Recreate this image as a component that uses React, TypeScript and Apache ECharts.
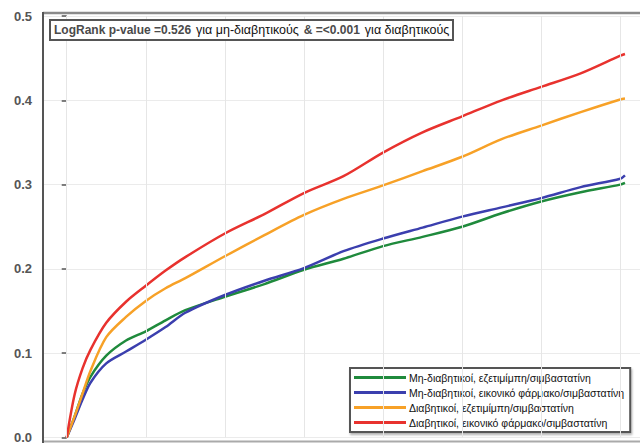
import React, { useEffect, useRef } from "react";
import * as echarts from "echarts";

// time in years (x axis has no visible labels); vertical grid each year
const years = [0, 0.1, 0.2, 0.3, 0.5, 0.75, 1, 1.25, 1.5, 2, 2.5, 3, 3.5, 4, 4.5, 5, 5.5, 6, 6.5, 7, 7.06];
const xGridYears = [0, 1, 2, 3, 4, 5, 6, 7];

const seriesNames = [
  "Μη-διαβητικοί, εζετιμίμπη/σιμβαστατίνη",
  "Μη-διαβητικοί, εικονικό φάρμακο/σιμβαστατίνη",
  "Διαβητικοί, εζετιμίμπη/σιμβαστατίνη",
  "Διαβητικοί, εικονικό φάρμακο/σιμβαστατίνη",
];

const nonDiabEzetimibe = [0, 0.025, 0.052, 0.072, 0.097, 0.115, 0.126, 0.139, 0.151, 0.167, 0.182, 0.199, 0.212, 0.227, 0.238, 0.25, 0.266, 0.28, 0.291, 0.3, 0.302];
const nonDiabPlacebo = [0, 0.022, 0.045, 0.065, 0.088, 0.102, 0.116, 0.131, 0.148, 0.169, 0.186, 0.201, 0.221, 0.236, 0.249, 0.262, 0.273, 0.284, 0.297, 0.307, 0.311];
const diabEzetimibe = [0, 0.025, 0.052, 0.079, 0.119, 0.143, 0.162, 0.177, 0.189, 0.215, 0.24, 0.264, 0.283, 0.299, 0.316, 0.333, 0.354, 0.37, 0.386, 0.401, 0.402];
const diabPlacebo = [0, 0.051, 0.082, 0.104, 0.136, 0.161, 0.18, 0.198, 0.214, 0.242, 0.265, 0.29, 0.31, 0.338, 0.362, 0.381, 0.4, 0.416, 0.432, 0.453, 0.455];

const seriesValues = [nonDiabEzetimibe, nonDiabPlacebo, diabEzetimibe, diabPlacebo];
const seriesColors = ["#1f8a3c", "#3b3fae", "#f7a127", "#e8322e"];

const yTicks = [0, 0.1, 0.2, 0.3, 0.4, 0.5];

const FONT = "'Liberation Sans', Arial, sans-serif";

export default function App() {
  const ref = useRef<HTMLDivElement>(null);
  useEffect(() => {
    if (!ref.current) return;
    const chart = echarts.init(ref.current, null, { renderer: "svg" });
    const lines = seriesValues.map((vals, i) => ({
      name: seriesNames[i],
      type: "line",
      data: vals.map((v, j) => [years[j], v]),
      showSymbol: false,
      symbol: "none",
      smooth: 0.3,
      lineStyle: { color: seriesColors[i], width: 2.5 },
      itemStyle: { color: seriesColors[i] },
      z: 3,
    }));
    chart.setOption({
      animation: false,
      backgroundColor: "#ffffff",
      grid: { left: 43, right: 0, top: 16, bottom: 5 },
      title: {
        left: 50,
        top: 20,
        padding: [1, 4, 1, 4],
        borderColor: "#555",
        borderWidth: 2,
        backgroundColor: "#fff",
        text: "{b|LogRank p-value =0.526} {n|για μη-διαβητικούς} {b|& =<0.001} {n|για διαβητικούς}",
        textStyle: {
          rich: {
            b: { fontFamily: FONT, fontSize: 12, fontWeight: "bold", color: "#4a4a4a", lineHeight: 14 },
            n: { fontFamily: FONT, fontSize: 12.5, fontWeight: "normal", color: "#111", lineHeight: 14 },
          },
        },
      },
      legend: {
        data: seriesNames,
        orient: "vertical",
        left: 350,
        top: 368,
        itemWidth: 52,
        itemHeight: 3,
        itemGap: 4,
        icon: "rect",
        padding: [4, 6, 4, 4],
        borderColor: "#555",
        borderWidth: 2,
        backgroundColor: "#fff",
        shadowColor: "rgba(0,0,0,0.3)",
        shadowBlur: 2,
        shadowOffsetX: 1,
        shadowOffsetY: 2,
        textStyle: {
          fontFamily: FONT,
          fontSize: 10.5,
          color: "#111",
          padding: [0, 0, 0, -2],
        },
      },
      xAxis: {
        type: "value",
        min: -0.3,
        max: 7.25,
        axisLine: { show: false },
        axisTick: { show: false },
        axisLabel: { show: false },
        splitLine: { show: false },
      },
      yAxis: {
        type: "value",
        min: 0,
        max: 0.5,
        interval: 0.1,
        axisLine: { show: false },
        axisTick: { show: true, length: 5, lineStyle: { color: "#555", width: 1.5 } },
        axisLabel: {
          fontFamily: FONT,
          fontSize: 13,
          fontWeight: "bold",
          color: "#555",
          margin: 11,
          formatter: (v: number) => v.toFixed(1),
          customValues: yTicks,
        },
        splitLine: { show: true, lineStyle: { color: "#ebebeb", width: 1 } },
      },
      series: [
        {
          name: "grid",
          type: "line",
          data: [],
          silent: true,
          z: 1,
          markLine: {
            silent: true,
            symbol: ["none", "none"],
            label: { show: false },
            lineStyle: { color: "#e6e6e6", width: 1, type: "solid" },
            data: xGridYears.map((v) => ({ xAxis: v })),
          },
        },
        ...lines,
      ],
      graphic: [
        { type: "line", shape: { x1: 43, y1: 13, x2: 640, y2: 13 }, style: { stroke: "#8a8a8a", lineWidth: 2.5 }, z: 10 },
        { type: "line", shape: { x1: 43, y1: 441.5, x2: 640, y2: 441.5 }, style: { stroke: "#aaa", lineWidth: 2 }, z: 10 },
        { type: "line", shape: { x1: 43, y1: 12, x2: 43, y2: 443 }, style: { stroke: "#555", lineWidth: 2 }, z: 10 },
      ],
    });
    return () => chart.dispose();
  }, []);
  return <div ref={ref} style={{ width: 640, height: 444, position: "fixed", left: 0, top: 0 }} />;
}
